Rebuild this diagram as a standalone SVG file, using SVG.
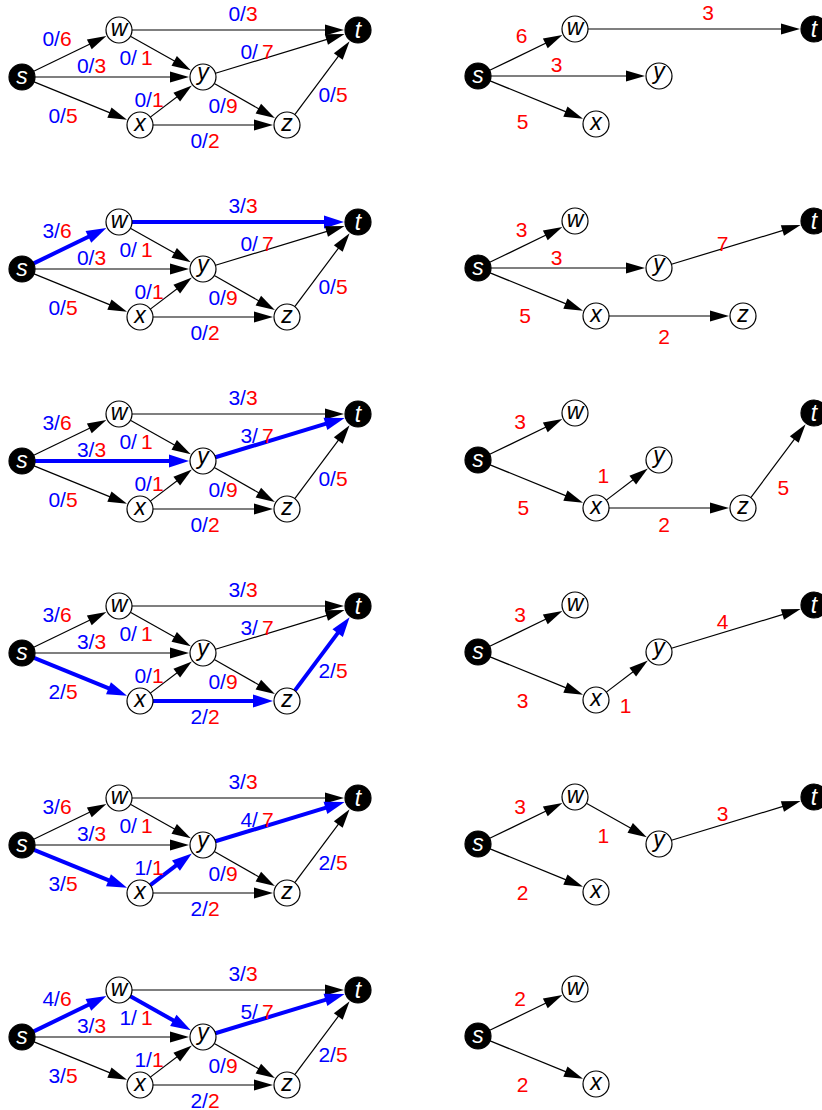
<svg xmlns="http://www.w3.org/2000/svg" width="822" height="1110" viewBox="0 0 822 1110">
<style>
.e{stroke:#000;stroke-width:1.2;fill:none;marker-end:url(#ah)}
.b{stroke:#0000ff;stroke-width:4;fill:none;marker-end:url(#ahb)}
.n circle{fill:#fff;stroke:#000;stroke-width:1.2}
.k circle{fill:#000;stroke:#000;stroke-width:1.2}
.n text{font-family:"Liberation Sans",Arial,sans-serif;font-style:italic;font-size:23px;text-anchor:middle;fill:#000}
.k text{font-family:"Liberation Sans",Arial,sans-serif;font-style:italic;font-size:23px;text-anchor:middle;fill:#fff}
.l{font-family:"Liberation Sans",Arial,sans-serif;font-size:21px;text-anchor:middle}
.f{fill:#0000ff}
.c{fill:#ff0000}
</style>
<defs>
<marker id="ah" markerUnits="userSpaceOnUse" markerWidth="22" markerHeight="14" viewBox="0 -7 20 14" refX="10" refY="0" orient="auto" overflow="visible"><path d="M0,-5.5 L19,0 L0,5.5 z" fill="#000"/></marker>
<marker id="ahb" markerUnits="userSpaceOnUse" markerWidth="22" markerHeight="16" viewBox="0 -8 21 16" refX="11" refY="0" orient="auto" overflow="visible"><path d="M0,-6.5 L20,0 L0,6.5 z" fill="#0000ff"/></marker>
</defs>

<g id="connectors">
<g transform="translate(0,0)">
<line class="e" x1="33.7" y1="71.33" x2="98.3" y2="40.02"/>
<line class="e" x1="35" y1="77" x2="180" y2="77"/>
<line class="e" x1="34.04" y1="81.9" x2="118.69" y2="116.33"/>
<line class="e" x1="132" y1="30" x2="335" y2="30"/>
<line class="e" x1="130.35" y1="36.35" x2="182.93" y2="65.77"/>
<line class="e" x1="150.34" y1="117.12" x2="184.7" y2="90.94"/>
<line class="e" x1="153" y1="125" x2="264" y2="125"/>
<line class="e" x1="215.44" y1="73.23" x2="335.99" y2="36.67"/>
<line class="e" x1="214.29" y1="83.45" x2="267.04" y2="113.58"/>
<line class="e" x1="294.78" y1="114.59" x2="344.23" y2="48.42"/>
</g>
<g transform="translate(0,192)">
<line class="b" x1="33.7" y1="71.33" x2="98.3" y2="40.02"/>
<line class="e" x1="35" y1="77" x2="180" y2="77"/>
<line class="e" x1="34.04" y1="81.9" x2="118.69" y2="116.33"/>
<line class="b" x1="132" y1="30" x2="335" y2="30"/>
<line class="e" x1="130.35" y1="36.35" x2="182.93" y2="65.77"/>
<line class="e" x1="150.34" y1="117.12" x2="184.7" y2="90.94"/>
<line class="e" x1="153" y1="125" x2="264" y2="125"/>
<line class="e" x1="215.44" y1="73.23" x2="335.99" y2="36.67"/>
<line class="e" x1="214.29" y1="83.45" x2="267.04" y2="113.58"/>
<line class="e" x1="294.78" y1="114.59" x2="344.23" y2="48.42"/>
</g>
<g transform="translate(0,384)">
<line class="e" x1="33.7" y1="71.33" x2="98.3" y2="40.02"/>
<line class="b" x1="35" y1="77" x2="180" y2="77"/>
<line class="e" x1="34.04" y1="81.9" x2="118.69" y2="116.33"/>
<line class="e" x1="132" y1="30" x2="335" y2="30"/>
<line class="e" x1="130.35" y1="36.35" x2="182.93" y2="65.77"/>
<line class="e" x1="150.34" y1="117.12" x2="184.7" y2="90.94"/>
<line class="e" x1="153" y1="125" x2="264" y2="125"/>
<line class="b" x1="215.44" y1="73.23" x2="335.99" y2="36.67"/>
<line class="e" x1="214.29" y1="83.45" x2="267.04" y2="113.58"/>
<line class="e" x1="294.78" y1="114.59" x2="344.23" y2="48.42"/>
</g>
<g transform="translate(0,576)">
<line class="e" x1="33.7" y1="71.33" x2="98.3" y2="40.02"/>
<line class="e" x1="35" y1="77" x2="180" y2="77"/>
<line class="b" x1="34.04" y1="81.9" x2="118.69" y2="116.33"/>
<line class="e" x1="132" y1="30" x2="335" y2="30"/>
<line class="e" x1="130.35" y1="36.35" x2="182.93" y2="65.77"/>
<line class="e" x1="150.34" y1="117.12" x2="184.7" y2="90.94"/>
<line class="b" x1="153" y1="125" x2="264" y2="125"/>
<line class="e" x1="215.44" y1="73.23" x2="335.99" y2="36.67"/>
<line class="e" x1="214.29" y1="83.45" x2="267.04" y2="113.58"/>
<line class="b" x1="294.78" y1="114.59" x2="344.23" y2="48.42"/>
</g>
<g transform="translate(0,768)">
<line class="e" x1="33.7" y1="71.33" x2="98.3" y2="40.02"/>
<line class="e" x1="35" y1="77" x2="180" y2="77"/>
<line class="b" x1="34.04" y1="81.9" x2="118.69" y2="116.33"/>
<line class="e" x1="132" y1="30" x2="335" y2="30"/>
<line class="e" x1="130.35" y1="36.35" x2="182.93" y2="65.77"/>
<line class="b" x1="150.34" y1="117.12" x2="184.7" y2="90.94"/>
<line class="e" x1="153" y1="125" x2="264" y2="125"/>
<line class="b" x1="215.44" y1="73.23" x2="335.99" y2="36.67"/>
<line class="e" x1="214.29" y1="83.45" x2="267.04" y2="113.58"/>
<line class="e" x1="294.78" y1="114.59" x2="344.23" y2="48.42"/>
</g>
<g transform="translate(0,960)">
<line class="b" x1="33.7" y1="71.33" x2="98.3" y2="40.02"/>
<line class="e" x1="35" y1="77" x2="180" y2="77"/>
<line class="e" x1="34.04" y1="81.9" x2="118.69" y2="116.33"/>
<line class="e" x1="132" y1="30" x2="335" y2="30"/>
<line class="b" x1="130.35" y1="36.35" x2="182.93" y2="65.77"/>
<line class="e" x1="150.34" y1="117.12" x2="184.7" y2="90.94"/>
<line class="e" x1="153" y1="125" x2="264" y2="125"/>
<line class="b" x1="215.44" y1="73.23" x2="335.99" y2="36.67"/>
<line class="e" x1="214.29" y1="83.45" x2="267.04" y2="113.58"/>
<line class="e" x1="294.78" y1="114.59" x2="344.23" y2="48.42"/>
</g>
<g transform="translate(456,-1)">
<line class="e" x1="33.7" y1="71.33" x2="98.3" y2="40.02"/>
<line class="e" x1="132" y1="30" x2="335" y2="30"/>
<line class="e" x1="35" y1="77" x2="180" y2="77"/>
<line class="e" x1="34.04" y1="81.9" x2="118.69" y2="116.33"/>
</g>
<g transform="translate(456,191)">
<line class="e" x1="33.7" y1="71.33" x2="98.3" y2="40.02"/>
<line class="e" x1="35" y1="77" x2="180" y2="77"/>
<line class="e" x1="34.04" y1="81.9" x2="118.69" y2="116.33"/>
<line class="e" x1="215.44" y1="73.23" x2="335.99" y2="36.67"/>
<line class="e" x1="153" y1="125" x2="264" y2="125"/>
</g>
<g transform="translate(456,383)">
<line class="e" x1="33.7" y1="71.33" x2="98.3" y2="40.02"/>
<line class="e" x1="34.04" y1="81.9" x2="118.69" y2="116.33"/>
<line class="e" x1="150.34" y1="117.12" x2="184.7" y2="90.94"/>
<line class="e" x1="153" y1="125" x2="264" y2="125"/>
<line class="e" x1="294.78" y1="114.59" x2="344.23" y2="48.42"/>
</g>
<g transform="translate(456,575)">
<line class="e" x1="33.7" y1="71.33" x2="98.3" y2="40.02"/>
<line class="e" x1="34.04" y1="81.9" x2="118.69" y2="116.33"/>
<line class="e" x1="150.34" y1="117.12" x2="184.7" y2="90.94"/>
<line class="e" x1="215.44" y1="73.23" x2="335.99" y2="36.67"/>
</g>
<g transform="translate(456,767)">
<line class="e" x1="33.7" y1="71.33" x2="98.3" y2="40.02"/>
<line class="e" x1="130.35" y1="36.35" x2="182.93" y2="65.77"/>
<line class="e" x1="215.44" y1="73.23" x2="335.99" y2="36.67"/>
<line class="e" x1="34.04" y1="81.9" x2="118.69" y2="116.33"/>
</g>
<g transform="translate(456,959)">
<line class="e" x1="33.7" y1="71.33" x2="98.3" y2="40.02"/>
<line class="e" x1="34.04" y1="81.9" x2="118.69" y2="116.33"/>
</g>
</g>

<g id="edge-labels">
<g transform="translate(0,0)">
<text class="l" x="57" y="46"><tspan class="f">0/</tspan><tspan class="c">6</tspan></text>
<text class="l" x="243" y="21"><tspan class="f">0/</tspan><tspan class="c">3</tspan></text>
<text class="l" x="136" y="65"><tspan class="f">0/</tspan><tspan class="c" dx="4">1</tspan></text>
<text class="l" x="91.5" y="73"><tspan class="f">0/</tspan><tspan class="c">3</tspan></text>
<text class="l" x="257" y="59"><tspan class="f">0/</tspan><tspan class="c" dx="4">7</tspan></text>
<text class="l" x="149" y="107"><tspan class="f">0/</tspan><tspan class="c">1</tspan></text>
<text class="l" x="223" y="113"><tspan class="f">0/</tspan><tspan class="c">9</tspan></text>
<text class="l" x="63" y="123"><tspan class="f">0/</tspan><tspan class="c">5</tspan></text>
<text class="l" x="205" y="148"><tspan class="f">0/</tspan><tspan class="c">2</tspan></text>
<text class="l" x="333" y="102"><tspan class="f">0/</tspan><tspan class="c">5</tspan></text>
</g>
<g transform="translate(0,192)">
<text class="l" x="57" y="46"><tspan class="f">3/</tspan><tspan class="c">6</tspan></text>
<text class="l" x="243" y="21"><tspan class="f">3/</tspan><tspan class="c">3</tspan></text>
<text class="l" x="136" y="65"><tspan class="f">0/</tspan><tspan class="c" dx="4">1</tspan></text>
<text class="l" x="91.5" y="73"><tspan class="f">0/</tspan><tspan class="c">3</tspan></text>
<text class="l" x="257" y="59"><tspan class="f">0/</tspan><tspan class="c" dx="4">7</tspan></text>
<text class="l" x="149" y="107"><tspan class="f">0/</tspan><tspan class="c">1</tspan></text>
<text class="l" x="223" y="113"><tspan class="f">0/</tspan><tspan class="c">9</tspan></text>
<text class="l" x="63" y="123"><tspan class="f">0/</tspan><tspan class="c">5</tspan></text>
<text class="l" x="205" y="148"><tspan class="f">0/</tspan><tspan class="c">2</tspan></text>
<text class="l" x="333" y="102"><tspan class="f">0/</tspan><tspan class="c">5</tspan></text>
</g>
<g transform="translate(0,384)">
<text class="l" x="57" y="46"><tspan class="f">3/</tspan><tspan class="c">6</tspan></text>
<text class="l" x="243" y="21"><tspan class="f">3/</tspan><tspan class="c">3</tspan></text>
<text class="l" x="136" y="65"><tspan class="f">0/</tspan><tspan class="c" dx="4">1</tspan></text>
<text class="l" x="91.5" y="73"><tspan class="f">3/</tspan><tspan class="c">3</tspan></text>
<text class="l" x="257" y="59"><tspan class="f">3/</tspan><tspan class="c" dx="4">7</tspan></text>
<text class="l" x="149" y="107"><tspan class="f">0/</tspan><tspan class="c">1</tspan></text>
<text class="l" x="223" y="113"><tspan class="f">0/</tspan><tspan class="c">9</tspan></text>
<text class="l" x="63" y="123"><tspan class="f">0/</tspan><tspan class="c">5</tspan></text>
<text class="l" x="205" y="148"><tspan class="f">0/</tspan><tspan class="c">2</tspan></text>
<text class="l" x="333" y="102"><tspan class="f">0/</tspan><tspan class="c">5</tspan></text>
</g>
<g transform="translate(0,576)">
<text class="l" x="57" y="46"><tspan class="f">3/</tspan><tspan class="c">6</tspan></text>
<text class="l" x="243" y="21"><tspan class="f">3/</tspan><tspan class="c">3</tspan></text>
<text class="l" x="136" y="65"><tspan class="f">0/</tspan><tspan class="c" dx="4">1</tspan></text>
<text class="l" x="91.5" y="73"><tspan class="f">3/</tspan><tspan class="c">3</tspan></text>
<text class="l" x="257" y="59"><tspan class="f">3/</tspan><tspan class="c" dx="4">7</tspan></text>
<text class="l" x="149" y="107"><tspan class="f">0/</tspan><tspan class="c">1</tspan></text>
<text class="l" x="223" y="113"><tspan class="f">0/</tspan><tspan class="c">9</tspan></text>
<text class="l" x="63" y="123"><tspan class="f">2/</tspan><tspan class="c">5</tspan></text>
<text class="l" x="205" y="148"><tspan class="f">2/</tspan><tspan class="c">2</tspan></text>
<text class="l" x="333" y="102"><tspan class="f">2/</tspan><tspan class="c">5</tspan></text>
</g>
<g transform="translate(0,768)">
<text class="l" x="57" y="46"><tspan class="f">3/</tspan><tspan class="c">6</tspan></text>
<text class="l" x="243" y="21"><tspan class="f">3/</tspan><tspan class="c">3</tspan></text>
<text class="l" x="136" y="65"><tspan class="f">0/</tspan><tspan class="c" dx="4">1</tspan></text>
<text class="l" x="91.5" y="73"><tspan class="f">3/</tspan><tspan class="c">3</tspan></text>
<text class="l" x="257" y="59"><tspan class="f">4/</tspan><tspan class="c" dx="4">7</tspan></text>
<text class="l" x="149" y="107"><tspan class="f">1/</tspan><tspan class="c">1</tspan></text>
<text class="l" x="223" y="113"><tspan class="f">0/</tspan><tspan class="c">9</tspan></text>
<text class="l" x="63" y="123"><tspan class="f">3/</tspan><tspan class="c">5</tspan></text>
<text class="l" x="205" y="148"><tspan class="f">2/</tspan><tspan class="c">2</tspan></text>
<text class="l" x="333" y="102"><tspan class="f">2/</tspan><tspan class="c">5</tspan></text>
</g>
<g transform="translate(0,960)">
<text class="l" x="57" y="46"><tspan class="f">4/</tspan><tspan class="c">6</tspan></text>
<text class="l" x="243" y="21"><tspan class="f">3/</tspan><tspan class="c">3</tspan></text>
<text class="l" x="136" y="65"><tspan class="f">1/</tspan><tspan class="c" dx="4">1</tspan></text>
<text class="l" x="91.5" y="73"><tspan class="f">3/</tspan><tspan class="c">3</tspan></text>
<text class="l" x="257" y="59"><tspan class="f">5/</tspan><tspan class="c" dx="4">7</tspan></text>
<text class="l" x="149" y="107"><tspan class="f">1/</tspan><tspan class="c">1</tspan></text>
<text class="l" x="223" y="113"><tspan class="f">0/</tspan><tspan class="c">9</tspan></text>
<text class="l" x="63" y="123"><tspan class="f">3/</tspan><tspan class="c">5</tspan></text>
<text class="l" x="205" y="148"><tspan class="f">2/</tspan><tspan class="c">2</tspan></text>
<text class="l" x="333" y="102"><tspan class="f">2/</tspan><tspan class="c">5</tspan></text>
</g>
<g transform="translate(456,-1)">
<text class="l c" x="65.7" y="44">6</text>
<text class="l c" x="252" y="21">3</text>
<text class="l c" x="100.7" y="72.7">3</text>
<text class="l c" x="66.7" y="130">5</text>
</g>
<g transform="translate(456,191)">
<text class="l c" x="65.7" y="46">3</text>
<text class="l c" x="100.7" y="74">3</text>
<text class="l c" x="69" y="132">5</text>
<text class="l c" x="266.7" y="60">7</text>
<text class="l c" x="208" y="153">2</text>
</g>
<g transform="translate(456,383)">
<text class="l c" x="64" y="46.3">3</text>
<text class="l c" x="147.3" y="99.7">1</text>
<text class="l c" x="67.3" y="132">5</text>
<text class="l c" x="208" y="149">2</text>
<text class="l c" x="327.3" y="112">5</text>
</g>
<g transform="translate(456,575)">
<text class="l c" x="64" y="46.7">3</text>
<text class="l c" x="66.7" y="132.7">3</text>
<text class="l c" x="169.7" y="137.7">1</text>
<text class="l c" x="266.7" y="54.3">4</text>
</g>
<g transform="translate(456,767)">
<text class="l c" x="64" y="47">3</text>
<text class="l c" x="147.3" y="76.3">1</text>
<text class="l c" x="66.7" y="133">2</text>
<text class="l c" x="266.7" y="53.7">3</text>
</g>
<g transform="translate(456,959)">
<text class="l c" x="64" y="47">2</text>
<text class="l c" x="66.7" y="133">2</text>
</g>
</g>

<g id="nodes">
<g transform="translate(0,0)">
<g id="r1-s" class="k"><circle cx="22" cy="77" r="13"/><text x="22" y="84">s</text></g>
<g id="r1-w" class="n"><circle cx="119" cy="30" r="13"/><text x="119" y="36">w</text></g>
<g id="r1-y" class="n"><circle cx="203" cy="77" r="13"/><text x="203" y="79.5">y</text></g>
<g id="r1-x" class="n"><circle cx="140" cy="125" r="13"/><text x="140" y="131">x</text></g>
<g id="r1-z" class="n"><circle cx="287" cy="125" r="13"/><text x="287" y="131">z</text></g>
<g id="r1-t" class="k"><circle cx="358" cy="30" r="13"/><text x="358" y="37.5">t</text></g>
</g>
<g transform="translate(0,192)">
<g id="r2-s" class="k"><circle cx="22" cy="77" r="13"/><text x="22" y="84">s</text></g>
<g id="r2-w" class="n"><circle cx="119" cy="30" r="13"/><text x="119" y="36">w</text></g>
<g id="r2-y" class="n"><circle cx="203" cy="77" r="13"/><text x="203" y="79.5">y</text></g>
<g id="r2-x" class="n"><circle cx="140" cy="125" r="13"/><text x="140" y="131">x</text></g>
<g id="r2-z" class="n"><circle cx="287" cy="125" r="13"/><text x="287" y="131">z</text></g>
<g id="r2-t" class="k"><circle cx="358" cy="30" r="13"/><text x="358" y="37.5">t</text></g>
</g>
<g transform="translate(0,384)">
<g id="r3-s" class="k"><circle cx="22" cy="77" r="13"/><text x="22" y="84">s</text></g>
<g id="r3-w" class="n"><circle cx="119" cy="30" r="13"/><text x="119" y="36">w</text></g>
<g id="r3-y" class="n"><circle cx="203" cy="77" r="13"/><text x="203" y="79.5">y</text></g>
<g id="r3-x" class="n"><circle cx="140" cy="125" r="13"/><text x="140" y="131">x</text></g>
<g id="r3-z" class="n"><circle cx="287" cy="125" r="13"/><text x="287" y="131">z</text></g>
<g id="r3-t" class="k"><circle cx="358" cy="30" r="13"/><text x="358" y="37.5">t</text></g>
</g>
<g transform="translate(0,576)">
<g id="r4-s" class="k"><circle cx="22" cy="77" r="13"/><text x="22" y="84">s</text></g>
<g id="r4-w" class="n"><circle cx="119" cy="30" r="13"/><text x="119" y="36">w</text></g>
<g id="r4-y" class="n"><circle cx="203" cy="77" r="13"/><text x="203" y="79.5">y</text></g>
<g id="r4-x" class="n"><circle cx="140" cy="125" r="13"/><text x="140" y="131">x</text></g>
<g id="r4-z" class="n"><circle cx="287" cy="125" r="13"/><text x="287" y="131">z</text></g>
<g id="r4-t" class="k"><circle cx="358" cy="30" r="13"/><text x="358" y="37.5">t</text></g>
</g>
<g transform="translate(0,768)">
<g id="r5-s" class="k"><circle cx="22" cy="77" r="13"/><text x="22" y="84">s</text></g>
<g id="r5-w" class="n"><circle cx="119" cy="30" r="13"/><text x="119" y="36">w</text></g>
<g id="r5-y" class="n"><circle cx="203" cy="77" r="13"/><text x="203" y="79.5">y</text></g>
<g id="r5-x" class="n"><circle cx="140" cy="125" r="13"/><text x="140" y="131">x</text></g>
<g id="r5-z" class="n"><circle cx="287" cy="125" r="13"/><text x="287" y="131">z</text></g>
<g id="r5-t" class="k"><circle cx="358" cy="30" r="13"/><text x="358" y="37.5">t</text></g>
</g>
<g transform="translate(0,960)">
<g id="r6-s" class="k"><circle cx="22" cy="77" r="13"/><text x="22" y="84">s</text></g>
<g id="r6-w" class="n"><circle cx="119" cy="30" r="13"/><text x="119" y="36">w</text></g>
<g id="r6-y" class="n"><circle cx="203" cy="77" r="13"/><text x="203" y="79.5">y</text></g>
<g id="r6-x" class="n"><circle cx="140" cy="125" r="13"/><text x="140" y="131">x</text></g>
<g id="r6-z" class="n"><circle cx="287" cy="125" r="13"/><text x="287" y="131">z</text></g>
<g id="r6-t" class="k"><circle cx="358" cy="30" r="13"/><text x="358" y="37.5">t</text></g>
</g>
<g transform="translate(456,-1)">
<g id="g1-s" class="k"><circle cx="22" cy="77" r="13"/><text x="22" y="84">s</text></g>
<g id="g1-w" class="n"><circle cx="119" cy="30" r="13"/><text x="119" y="36">w</text></g>
<g id="g1-y" class="n"><circle cx="203" cy="77" r="13"/><text x="203" y="79.5">y</text></g>
<g id="g1-x" class="n"><circle cx="140" cy="125" r="13"/><text x="140" y="131">x</text></g>
<g id="g1-t" class="k"><circle cx="358" cy="30" r="13"/><text x="358" y="37.5">t</text></g>
</g>
<g transform="translate(456,191)">
<g id="g2-s" class="k"><circle cx="22" cy="77" r="13"/><text x="22" y="84">s</text></g>
<g id="g2-w" class="n"><circle cx="119" cy="30" r="13"/><text x="119" y="36">w</text></g>
<g id="g2-y" class="n"><circle cx="203" cy="77" r="13"/><text x="203" y="79.5">y</text></g>
<g id="g2-x" class="n"><circle cx="140" cy="125" r="13"/><text x="140" y="131">x</text></g>
<g id="g2-z" class="n"><circle cx="287" cy="125" r="13"/><text x="287" y="131">z</text></g>
<g id="g2-t" class="k"><circle cx="358" cy="30" r="13"/><text x="358" y="37.5">t</text></g>
</g>
<g transform="translate(456,383)">
<g id="g3-s" class="k"><circle cx="22" cy="77" r="13"/><text x="22" y="84">s</text></g>
<g id="g3-w" class="n"><circle cx="119" cy="30" r="13"/><text x="119" y="36">w</text></g>
<g id="g3-y" class="n"><circle cx="203" cy="77" r="13"/><text x="203" y="79.5">y</text></g>
<g id="g3-x" class="n"><circle cx="140" cy="125" r="13"/><text x="140" y="131">x</text></g>
<g id="g3-z" class="n"><circle cx="287" cy="125" r="13"/><text x="287" y="131">z</text></g>
<g id="g3-t" class="k"><circle cx="358" cy="30" r="13"/><text x="358" y="37.5">t</text></g>
</g>
<g transform="translate(456,575)">
<g id="g4-s" class="k"><circle cx="22" cy="77" r="13"/><text x="22" y="84">s</text></g>
<g id="g4-w" class="n"><circle cx="119" cy="30" r="13"/><text x="119" y="36">w</text></g>
<g id="g4-y" class="n"><circle cx="203" cy="77" r="13"/><text x="203" y="79.5">y</text></g>
<g id="g4-x" class="n"><circle cx="140" cy="125" r="13"/><text x="140" y="131">x</text></g>
<g id="g4-t" class="k"><circle cx="358" cy="30" r="13"/><text x="358" y="37.5">t</text></g>
</g>
<g transform="translate(456,767)">
<g id="g5-s" class="k"><circle cx="22" cy="77" r="13"/><text x="22" y="84">s</text></g>
<g id="g5-w" class="n"><circle cx="119" cy="30" r="13"/><text x="119" y="36">w</text></g>
<g id="g5-y" class="n"><circle cx="203" cy="77" r="13"/><text x="203" y="79.5">y</text></g>
<g id="g5-x" class="n"><circle cx="140" cy="125" r="13"/><text x="140" y="131">x</text></g>
<g id="g5-t" class="k"><circle cx="358" cy="30" r="13"/><text x="358" y="37.5">t</text></g>
</g>
<g transform="translate(456,959)">
<g id="g6-s" class="k"><circle cx="22" cy="77" r="13"/><text x="22" y="84">s</text></g>
<g id="g6-w" class="n"><circle cx="119" cy="30" r="13"/><text x="119" y="36">w</text></g>
<g id="g6-x" class="n"><circle cx="140" cy="125" r="13"/><text x="140" y="131">x</text></g>
</g>
</g>
</svg>
